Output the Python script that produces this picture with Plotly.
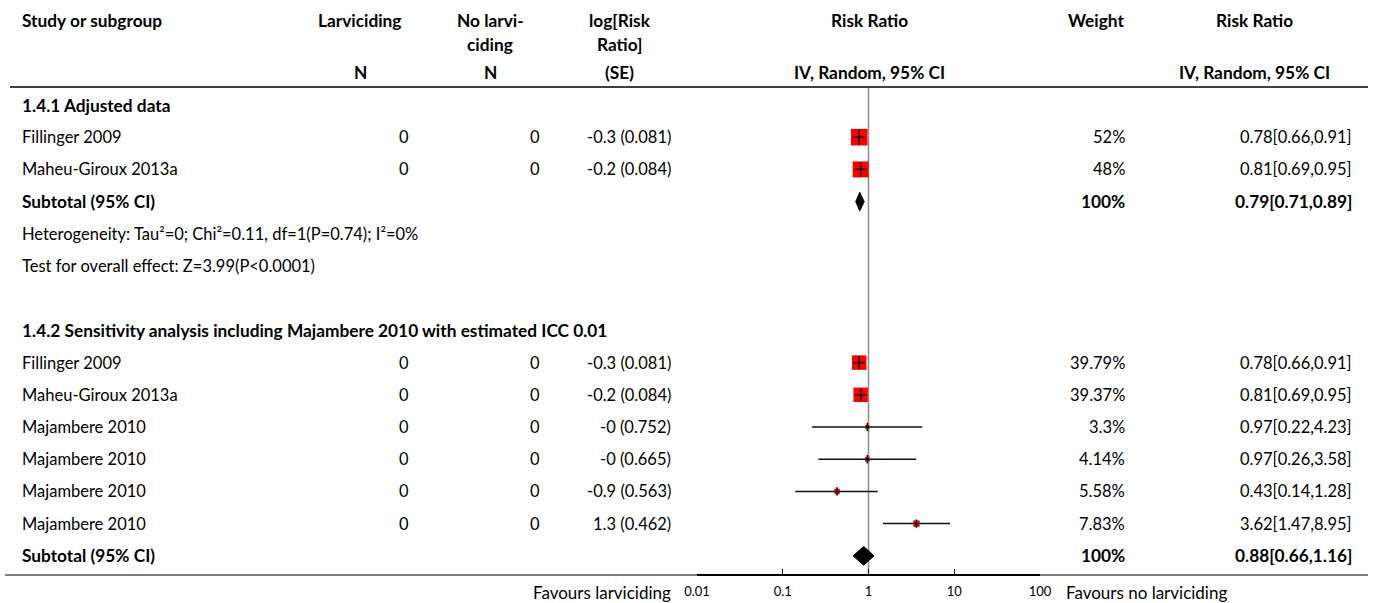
import plotly.graph_objects as go
import math

W, H = 1375, 603

# ---------------- data ----------------
studies = ["Fillinger 2009", "Maheu-Giroux 2013a",
           "Fillinger 2009", "Maheu-Giroux 2013a",
           "Majambere 2010", "Majambere 2010", "Majambere 2010", "Majambere 2010"]
study_rows = [1, 2, 8, 9, 10, 11, 12, 13]
n_larv = [0, 0, 0, 0, 0, 0, 0, 0]
n_nolarv = [0, 0, 0, 0, 0, 0, 0, 0]
log_rr_se = ["-0.3 (0.081)", "-0.2 (0.084)", "-0.3 (0.081)", "-0.2 (0.084)",
             "-0 (0.752)", "-0 (0.665)", "-0.9 (0.563)", "1.3 (0.462)"]
weights = [52, 48, 39.79, 39.37, 3.3, 4.14, 5.58, 7.83]
weight_labels = ["52%", "48%", "39.79%", "39.37%", "3.3%", "4.14%", "5.58%", "7.83%"]
rr = [0.78, 0.81, 0.78, 0.81, 0.97, 0.97, 0.43, 3.62]
rr_lo = [0.66, 0.69, 0.66, 0.69, 0.22, 0.26, 0.14, 1.47]
rr_hi = [0.91, 0.95, 0.91, 0.95, 4.23, 3.58, 1.28, 8.95]

subtotal_rows = [3, 14]
subtotal_rr = [0.79, 0.88]
subtotal_lo = [0.71, 0.66]
subtotal_hi = [0.89, 1.16]
subtotal_weight = ["100%", "100%"]

section_rows = [0, 7]
section_titles = ["1.4.1 Adjusted data",
                  "1.4.2 Sensitivity analysis including Majambere 2010 with estimated ICC 0.01"]
note_rows = [4, 5]
notes = ["Heterogeneity: Tau\u00b2=0; Chi\u00b2=0.11, df=1(P=0.74); I\u00b2=0%",
         "Test for overall effect: Z=3.99(P<0.0001)"]

tick_vals = [0.01, 0.1, 1, 10, 100]
tick_text = ["0.01", "0.1", "1", "10", "100"]

# ---------------- layout helpers ----------------
ROW0_PX = 105.0
ROW_PX = 32.2
FONT = "Lato, 'Noto Sans', sans-serif"
FS = 16.5
FSB = 17.3


def px(x):
    return x / W


def py(y):
    return 1 - y / H


def fmt_ci(a, b, c):
    return f"{a:.2f}[{b:.2f},{c:.2f}]"


fig = go.Figure()

# CI lines for studies
ci_x, ci_y = [], []
for lo, hi, r in zip(rr_lo, rr_hi, study_rows):
    ci_x += [lo, hi, None]
    ci_y += [r, r, None]

# squares
fig.add_trace(go.Scatter(
    x=rr, y=study_rows, mode="markers",
    marker=dict(symbol="square", color="#ff0000", opacity=1,
                size=[2.3 * math.sqrt(w) for w in weights], line=dict(width=0)),
    hoverinfo="skip", showlegend=False))
fig.add_trace(go.Scatter(x=ci_x, y=ci_y, mode="lines",
                         line=dict(color="#111111", width=1.5),
                         hoverinfo="skip", showlegend=False))
fig.add_trace(go.Scatter(
    x=rr, y=study_rows, mode="markers",
    marker=dict(symbol="line-ns", color="#111111", opacity=1,
                size=[max(6, 1.5 * math.sqrt(w)) for w in weights],
                line=dict(width=1.6, color="#111111")),
    hoverinfo="skip", showlegend=False))

# diamonds
for r, est, lo, hi in zip(subtotal_rows, subtotal_rr, subtotal_lo, subtotal_hi):
    h = 0.29
    fig.add_trace(go.Scatter(
        x=[lo, est, hi, est, lo], y=[r, r - h, r, r + h, r],
        mode="lines", fill="toself", fillcolor="#000000",
        line=dict(color="#000000", width=1),
        hoverinfo="skip", showlegend=False))

y_top = (0 - ROW0_PX) / ROW_PX
y_bot = (H - ROW0_PX) / ROW_PX

fig.update_layout(
    width=W, height=H, autosize=False,
    margin=dict(l=0, r=0, t=0, b=0, pad=0, autoexpand=False),
    paper_bgcolor="white", plot_bgcolor="white",
    font=dict(family=FONT, size=FS, color="#000000"),
    showlegend=False,
    xaxis=dict(type="log", range=[-2, 2], automargin=False,
               domain=[px(697), px(1040)],
               anchor="free", position=py(575),
               tickvals=tick_vals, ticktext=tick_text,
               ticks="inside", ticklen=5, tickwidth=1, tickcolor="#000",
               ticklabelstandoff=4,
               showline=True, linecolor="#000", linewidth=2,
               showgrid=False, zeroline=False,
               tickfont=dict(size=13, family=FONT, color="#000")),
    yaxis=dict(range=[y_bot, y_top], domain=[0, 1], visible=False, automargin=False,
               showgrid=False, zeroline=False),
)

# lines
fig.add_shape(type="line", xref="paper", yref="paper",
              x0=px(10), x1=px(1368), y0=py(87), y1=py(87),
              line=dict(color="#000", width=1.5))
fig.add_shape(type="line", xref="paper", yref="paper",
              x0=px(5), x1=px(1368), y0=py(575), y1=py(575),
              line=dict(color="#000", width=1))
fig.add_shape(type="line", xref="x", yref="paper",
              x0=1, x1=1, y0=py(88), y1=py(575),
              line=dict(color="#8c8c8c", width=1.5), layer="below")

ann = []


def text(x, y, s, anchor="left", bold=False, size=None, yref="paper"):
    if size is None:
        size = FSB if bold else FS
    ann.append(dict(x=x, y=y, xref="paper", yref=yref, text=f"<b>{s}</b>" if bold else s,
                    showarrow=False, xanchor=anchor, yanchor="middle",
                    borderpad=0, borderwidth=0,
                    font=dict(size=size, family=FONT, color="#000")))


# headers
text(px(22), py(21), "Study or subgroup", bold=True)
text(px(360), py(21), "Larviciding", "center", True)
text(px(360), py(72), "N", "center", True)
text(px(490), py(21), "No larvi-", "center", True)
text(px(490), py(44), "ciding", "center", True)
text(px(490), py(72), "N", "center", True)
text(px(620), py(21), "log[Risk", "center", True)
text(px(620), py(44), "Ratio]", "center", True)
text(px(619), py(72), "(SE)", "center", True)
text(px(869), py(21), "Risk Ratio", "center", True)
text(px(869), py(72), "IV, Random, 95% CI", "center", True)
text(px(1124), py(21), "Weight", "right", True)
text(px(1254), py(21), "Risk Ratio", "center", True)
text(px(1254), py(72), "IV, Random, 95% CI", "center", True)

for r, t in zip(section_rows, section_titles):
    text(px(22), r, t, bold=True, yref="y")
for r, t in zip(note_rows, notes):
    text(px(22), r, t, yref="y")

for i, r in enumerate(study_rows):
    text(px(22), r, studies[i], yref="y")
    text(px(409), r, str(n_larv[i]), "right", yref="y")
    text(px(540), r, str(n_nolarv[i]), "right", yref="y")
    text(px(671), r, log_rr_se[i], "right", yref="y")
    text(px(1125), r, weight_labels[i], "right", yref="y")
    text(px(1352), r, fmt_ci(rr[i], rr_lo[i], rr_hi[i]), "right", yref="y")

for i, r in enumerate(subtotal_rows):
    text(px(22), r, "Subtotal (95% CI)", bold=True, yref="y")
    text(px(1125), r, subtotal_weight[i], "right", True, yref="y")
    text(px(1352), r, fmt_ci(subtotal_rr[i], subtotal_lo[i], subtotal_hi[i]), "right", True, yref="y")

text(px(671), py(592), "Favours larviciding", "right", size=17)
text(px(1066), py(592), "Favours no larviciding", "left", size=17)

fig.update_layout(annotations=ann)

fig.write_html("out.html")
